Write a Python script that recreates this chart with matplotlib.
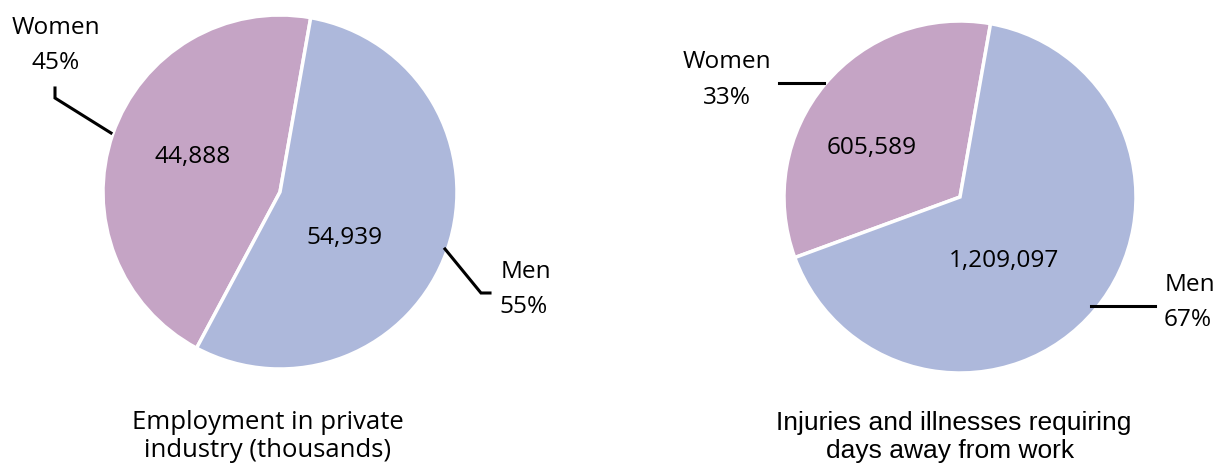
import matplotlib
matplotlib.use("Agg")
import matplotlib.pyplot as plt

# Data
groups = ["Women", "Men"]
employment = [44888, 54939]          # thousands
employment_pct = ["45%", "55%"]
employment_labels = ["44,888", "54,939"]
injuries = [605589, 1209097]
injuries_pct = ["33%", "67%"]
injuries_labels = ["605,589", "1,209,097"]
titles = ["Employment in private\nindustry (thousands)",
          "Injuries and illnesses requiring\ndays away from work"]

colors = ["#C5A4C5", "#ADB8DB"]
W, H = 1220, 468

fig = plt.figure(figsize=(W / 100, H / 100), dpi=100)
ax = fig.add_axes([0, 0, 1, 1])

def Y(y):
    return H - y

FONT = "Open Sans"
FS = 17.6

# Left pie
ax.pie(employment, colors=colors, startangle=80, counterclock=True,
       center=(280, Y(192)), radius=177, frame=True,
       wedgeprops=dict(edgecolor="white", linewidth=2.5))
# Right pie
ax.pie(injuries, colors=colors, startangle=80, counterclock=True,
       center=(960, Y(197)), radius=176, frame=True,
       wedgeprops=dict(edgecolor="white", linewidth=2.5))
ax.set_xlim(0, W)
ax.set_ylim(0, H)
ax.set_aspect("equal")
ax.axis("off")

def txt(x, yb, s, family=FONT, size=FS):
    ax.text(x, Y(yb), s, ha="center", va="baseline", fontsize=size,
            family=family, color="black")

# Value labels
txt(193, 163, employment_labels[0])
txt(345, 244, employment_labels[1])
txt(872, 154, injuries_labels[0])
txt(1004, 267, injuries_labels[1])

# Outside labels
txt(56, 34, groups[0]); txt(56, 69, employment_pct[0])
txt(526, 278, groups[1]); txt(524, 313, employment_pct[1])
txt(727, 68, groups[0]); txt(727, 104, injuries_pct[0])
txt(1190, 291, groups[1]); txt(1188, 326, injuries_pct[1])

# Leader lines
lw = 2.2
ax.plot([55, 55, 111], [Y(88), Y(98), Y(133)], color="black", lw=lw, solid_joinstyle="miter")
ax.plot([445, 481, 490], [Y(249), Y(293), Y(293)], color="black", lw=lw, solid_joinstyle="miter")
ax.plot([779, 824], [Y(83), Y(83)], color="black", lw=lw)
ax.plot([1091, 1155], [Y(306), Y(306)], color="black", lw=lw)

# Titles
l1, l2 = titles[0].split("\n")
txt(268, 429, l1, size=18.5); txt(268, 457, l2, size=18.5)
r1, r2 = titles[1].split("\n")
txt(954, 430, r1, family="Liberation Sans", size=19)
txt(950, 458, r2, family="Liberation Sans", size=19)

fig.savefig("out.png", dpi=100, facecolor="white")
